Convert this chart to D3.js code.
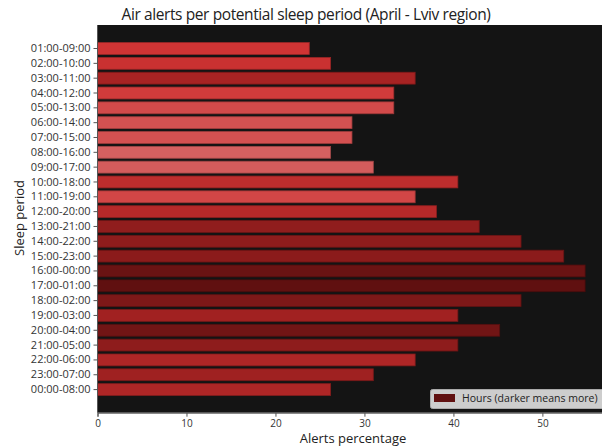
<!DOCTYPE html>
<html><head><meta charset="utf-8">
<script src="https://cdn.jsdelivr.net/npm/d3@7"></script>
<style>body{margin:0;background:#fff}svg{display:block}text{font-family:"Open Sans",sans-serif}</style>
</head><body><div id="chart"></div>
<script>
const periods = ["01:00-09:00","02:00-10:00","03:00-11:00","04:00-12:00","05:00-13:00","06:00-14:00","07:00-15:00","08:00-16:00","09:00-17:00","10:00-18:00","11:00-19:00","12:00-20:00","13:00-21:00","14:00-22:00","15:00-23:00","16:00-00:00","17:00-01:00","18:00-02:00","19:00-03:00","20:00-04:00","21:00-05:00","22:00-06:00","23:00-07:00","00:00-08:00"];
const alertPct = [23.8,26.2,35.7,33.3,33.3,28.6,28.6,26.2,31.0,40.5,35.7,38.1,42.9,47.6,52.4,54.8,54.8,47.6,40.5,45.2,40.5,35.7,31.0,26.2];
// relative alert hours (drives colour: darker means more)
const alertHours = [30,35,58,25,15,10,10,0,3,42,18,48,72,73,75,94,100,83,62,90,73,53,63,53];
const xTicks = [0,10,20,30,40,50];

const W=602,H=448;
const svg=d3.select("#chart").append("svg").attr("width",W).attr("height",H);
const L=97.5,T=25,B=412.7,R=602;
const x=d3.scaleLinear().domain([0,56.7]).range([L,R]);
const y=d3.scaleBand().domain(periods).range([41.1,397]).paddingInner(0.2).paddingOuter(0.1);
const color=d3.scaleLinear().domain([0,30,60,100]).range(["#d46060","#d03434","#a42222","#601010"]);

svg.append("rect").attr("x",L).attr("y",T).attr("width",R-L).attr("height",B-T).attr("fill","#141414");

svg.append("g").selectAll("rect").data(periods).join("rect")
  .attr("x",x(0)).attr("y",d=>y(d))
  .attr("width",(d,i)=>x(alertPct[i])-x(0)).attr("height",y.bandwidth())
  .attr("fill",(d,i)=>color(alertHours[i]))
  .attr("stroke",(d,i)=>d3.color(color(alertHours[i])).darker(0.8)).attr("stroke-width",0.8);

const xa=svg.append("g").attr("transform",`translate(0,${B})`).call(d3.axisBottom(x).tickValues(xTicks).tickSize(4).tickPadding(3));
xa.select(".domain").attr("stroke","#555");
xa.selectAll(".tick line").attr("stroke","#555");
xa.selectAll("text").attr("fill","#333").style("font-size","10px").style("font-family","'Open Sans',sans-serif");

const ya=svg.append("g").attr("transform",`translate(${L},0)`).call(d3.axisLeft(y).tickSize(4).tickPadding(3));
ya.select(".domain").attr("stroke","#555").attr("d",`M0,${T}V${B}`);
ya.selectAll(".tick line").attr("stroke","#555");
ya.selectAll("text").attr("fill","#333").style("font-size","11px").style("font-family","'Open Sans',sans-serif");

const title=svg.append("text").attr("x",306).attr("y",20).attr("text-anchor","middle").attr("fill","#222").style("font-size","15.5px").style("letter-spacing","-0.4px").text("Air alerts per potential sleep period (April - Lviv region)");
svg.append("text").attr("x",353).attr("y",443).attr("text-anchor","middle").attr("fill","#222").style("font-size","13px").text("Alerts percentage");
svg.append("text").attr("transform","translate(24,218) rotate(-90)").attr("text-anchor","middle").attr("fill","#222").style("font-size","13px").text("Sleep period");

const lg=svg.append("g");
lg.append("rect").attr("x",430.5).attr("y",389.5).attr("width",180).attr("height",19).attr("rx",2).attr("fill","#cdcdcd").attr("stroke","#aaa");
lg.append("rect").attr("x",434).attr("y",394).attr("width",21).attr("height",8).attr("fill",color(100));
lg.append("text").attr("x",462).attr("y",402).attr("fill","#222").style("font-size","10.5px").text("Hours (darker means more)");
</script></body></html>
